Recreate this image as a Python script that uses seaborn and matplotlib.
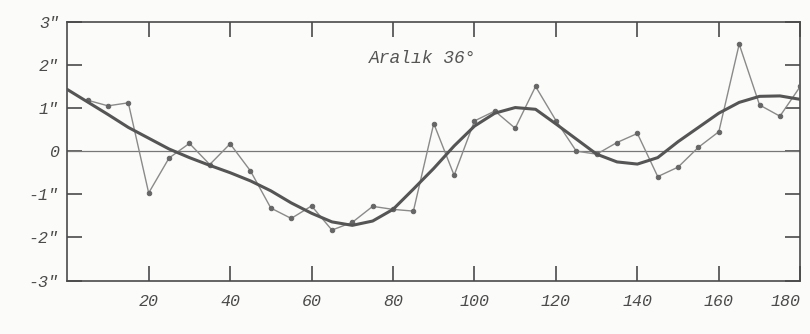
import matplotlib
matplotlib.use("Agg")
import matplotlib.pyplot as plt
import seaborn as sns
import pandas as pd

# measured points (every 5 units)
obs_x = [5, 10, 15, 20, 25, 30, 35, 40, 45, 50, 55, 60, 65, 70, 75, 80, 85, 90,
         95, 100, 105, 110, 115, 120, 125, 130, 135, 140, 145, 150, 155, 160,
         165, 170, 175, 180]
obs_y = [1.18, 1.05, 1.12, -0.97, -0.16, 0.18, -0.31, 0.17, -0.46, -1.32, -1.56,
         -1.27, -1.83, -1.65, -1.28, -1.35, -1.39, 0.64, -0.56, 0.70, 0.93, 0.53,
         1.50, 0.71, 0.00, -0.07, 0.20, 0.41, -0.59, -0.37, 0.09, 0.45, 2.48,
         1.07, 0.81, 1.50]

# smooth fitted curve
fit_x = [0, 5, 10, 15, 20, 25, 30, 35, 40, 45, 50, 55, 60, 65, 70, 75, 80, 85,
         90, 95, 100, 105, 110, 115, 120, 125, 130, 135, 140, 145, 150, 155,
         160, 165, 170, 175, 180]
fit_y = [1.43, 1.14, 0.85, 0.55, 0.30, 0.05, -0.15, -0.33, -0.50, -0.69, -0.92,
         -1.20, -1.44, -1.64, -1.72, -1.62, -1.35, -0.88, -0.40, 0.12, 0.58,
         0.88, 1.01, 0.97, 0.63, 0.28, -0.07, -0.25, -0.30, -0.15, 0.22, 0.55,
         0.88, 1.13, 1.27, 1.28, 1.20]

x_ticks = [20, 40, 60, 80, 100, 120, 140, 160, 180]
y_ticks = [-3, -2, -1, 0, 1, 2, 3]
y_labels = ['-3"', '-2"', '-1"', '0', '1"', '2"', '3"']
annotation = "Aralık 36°"

sns.set_style("ticks")
plt.rcParams['font.family'] = ['Liberation Mono', 'DejaVu Sans Mono']

ink = "#4a4a4a"
bg = "#fbfbf9"
fig = plt.figure(figsize=(8.1, 3.34), dpi=100, facecolor=bg)
ax = fig.add_axes([0.083, 0.16, 0.905, 0.775])
ax.set_facecolor(bg)

ax.axhline(0, color="#777777", lw=0.9, zorder=1)

obs = pd.DataFrame({"x": obs_x, "y": obs_y})
fit = pd.DataFrame({"x": fit_x, "y": fit_y})
sns.lineplot(data=obs, x="x", y="y", ax=ax, color="#8a8a8a", lw=1.0,
             marker="o", markersize=3.2, markerfacecolor="#666666",
             markeredgecolor="#666666", zorder=3)
sns.lineplot(data=fit, x="x", y="y", ax=ax, color="#555555", lw=2.2, zorder=4,
             solid_joinstyle="round", solid_capstyle="round")

ax.set_xlim(0, 180)
ax.set_ylim(-3, 3)
ax.set_xticks(x_ticks)
ax.set_xticklabels([str(v) for v in x_ticks], fontstyle="italic", fontsize=12, color=ink)
ax.get_xticklabels()[-1].set_horizontalalignment("right")
ax.set_yticks(y_ticks)
ax.set_yticklabels(y_labels, fontstyle="italic", fontsize=12, color=ink)
ax.tick_params(axis="both", direction="in", length=11, width=1.2, color=ink,
               top=True, right=True)
ax.tick_params(axis="x", pad=10)
ax.tick_params(axis="y", pad=6)
ax.set_xlabel("")
ax.set_ylabel("")
for s in ax.spines.values():
    s.set_color(ink)
    s.set_linewidth(1.2)

ax.text(74, 2.15, annotation, fontstyle="italic", fontsize=13, color="#555555",
        ha="left", va="center")

fig.savefig("out.png", dpi=100, facecolor=fig.get_facecolor())
